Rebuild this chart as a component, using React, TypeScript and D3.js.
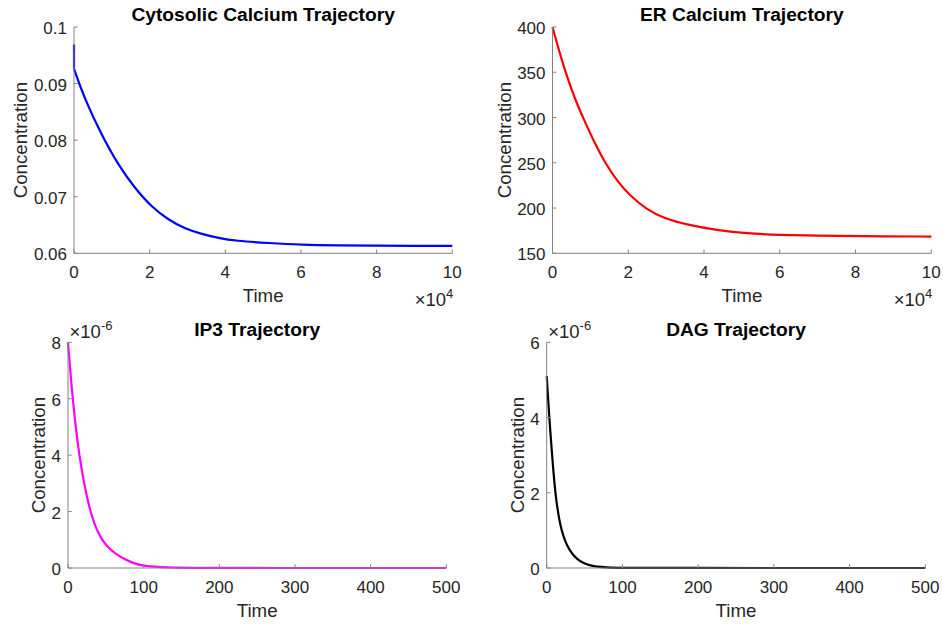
import React from "react";
import * as d3 from "d3";

// ---- data ----
// Cytosolic calcium: time in units of 1e4
const cytoTime = [0, 0.001, 0.28, 0.73, 1.17, 1.61, 2.05, 2.5, 2.94, 3.38, 3.82, 4.27, 5.15, 6, 7, 8, 9, 10];
const cytoValue = [0.0969, 0.0926, 0.0873, 0.0809, 0.0756, 0.0715, 0.0682, 0.0659, 0.0643, 0.0634, 0.0627, 0.0622, 0.0618, 0.0615, 0.0614, 0.06135, 0.0613, 0.0613];
// ER calcium: time in units of 1e4
const erTime = [0, 0.15, 0.335, 0.594, 0.858, 1.122, 1.386, 1.695, 2.046, 2.487, 2.925, 3.543, 4.42, 5.1, 6, 7, 8, 10];
const erValue = [400, 377, 351, 320, 295, 271, 250, 230.5, 213.5, 198.5, 189, 181.5, 175, 172, 170.3, 169.4, 168.9, 168.5];
// IP3: values in units of 1e-6
const ip3Time = [0, 3, 6.2, 14.1, 28.2, 42.7, 62.6, 84.6, 100, 130, 170, 250, 500];
const ip3Value = [8, 7.0, 6, 4, 2, 1, 0.47, 0.18, 0.06, 0.02, 0.005, 0, 0];
// DAG: values in units of 1e-6
const dagTime = [0, 3.4, 6.6, 11, 17.6, 26.4, 39.6, 57, 80, 100, 150, 500];
const dagValue = [5.1, 4, 3.14, 2, 1.1, 0.57, 0.21, 0.05, 0.015, 0.005, 0, 0];

const longTimeTicks = [0, 2, 4, 6, 8, 10];
const shortTimeTicks = [0, 100, 200, 300, 400, 500];
const cytoTicks = [0.06, 0.07, 0.08, 0.09, 0.1];
const erTicks = [150, 200, 250, 300, 350, 400];
const ip3Ticks = [0, 2, 4, 6, 8];
const dagTicks = [0, 2, 4, 6];

const titles = ["Cytosolic Calcium Trajectory", "ER Calcium Trajectory", "IP3 Trajectory", "DAG Trajectory"];

const FONT = "'Liberation Sans', Arial, Helvetica, sans-serif";
const TXT = "#262626";
const AX = "#838383";

type PanelProps = {
  left: number; right: number; top: number; bottom: number;
  xDomain: [number, number]; yDomain: [number, number];
  xTicks: number[]; yTicks: number[];
  time: number[]; values: number[];
  color: string; title: string;
  xExp?: string; yExp?: string;
  ylabelX: number;
  jumpAtStart?: boolean;
};

function Panel(p: PanelProps) {
  const x = d3.scaleLinear().domain(p.xDomain).range([p.left, p.right]);
  const y = d3.scaleLinear().domain(p.yDomain).range([p.bottom, p.top]);
  const pts: [number, number][] = p.time.map((t, i) => [x(t), y(p.values[i])]);
  const smooth = d3.line().curve(d3.curveBasis);
  const straight = d3.line();
  const paths: string[] = [];
  if (p.jumpAtStart) {
    paths.push(straight(pts.slice(0, 2)) || "");
    paths.push(smooth(pts.slice(1)) || "");
  } else {
    paths.push(smooth(pts) || "");
  }
  const tl = 3.8;
  const fmt = (v: number) => String(+v.toFixed(6));
  const cx = (p.left + p.right) / 2;
  const cy = (p.top + p.bottom) / 2;
  return (
    <g fontFamily={FONT}>
      {paths.map((d, i) => (
        <path key={i} d={d} fill="none" stroke={p.color} strokeWidth={2.2} strokeLinejoin="round" strokeLinecap="butt" />
      ))}
      <line x1={p.left} x2={p.right} y1={p.bottom} y2={p.bottom} stroke={AX} strokeWidth={1} />
      <line x1={p.left} x2={p.left} y1={p.top} y2={p.bottom} stroke={AX} strokeWidth={1} />
      {p.xTicks.map((t) => (
        <g key={"x" + t}>
          <line x1={x(t)} x2={x(t)} y1={p.bottom} y2={p.bottom - tl} stroke={AX} />
          <text x={x(t)} y={p.bottom + 25} textAnchor="middle" fontSize={17} fill={TXT}>{fmt(t)}</text>
        </g>
      ))}
      {p.yTicks.map((t) => (
        <g key={"y" + t}>
          <line x1={p.left} x2={p.left + tl} y1={y(t)} y2={y(t)} stroke={AX} />
          <text x={p.left - 7} y={y(t) + 7} textAnchor="end" fontSize={17} fill={TXT}>{fmt(t)}</text>
        </g>
      ))}
      <text x={cx} y={p.bottom + 48.5} textAnchor="middle" fontSize={18.7} fill={TXT}>Time</text>
      <text transform={`translate(${p.ylabelX},${cy}) rotate(-90)`} textAnchor="middle" fontSize={18.7} fill={TXT}>Concentration</text>
      <text x={cx} y={p.top - 6.3} textAnchor="middle" fontSize={19.2} fontWeight="bold" fill="#000">{p.title}</text>
      {p.xExp && (
        <text x={p.right + 1} y={p.bottom + 52.4} textAnchor="end" fontSize={18.5} fill={TXT}>
          ×10<tspan dy={-7.5} fontSize={13}>{p.xExp}</tspan>
        </text>
      )}
      {p.yExp && (
        <text x={p.left + 1.5} y={p.top - 4.6} textAnchor="start" fontSize={18.5} fill={TXT}>
          ×10<tspan dy={-7.5} fontSize={13}>{p.yExp}</tspan>
        </text>
      )}
    </g>
  );
}

export default function App() {
  return (
    <svg width={943} height={624} style={{ position: "absolute", left: 0, top: 0, background: "#fff" }}>
      <rect x={0} y={0} width={943} height={624} fill="#fff" />
      <Panel left={74} right={452.3} top={27} bottom={253.3} xDomain={[0, 10]} yDomain={[0.06, 0.1]}
        xTicks={longTimeTicks} yTicks={cytoTicks} time={cytoTime} values={cytoValue}
        color="#0000ff" title={titles[0]} xExp="4" ylabelX={26.7} jumpAtStart />
      <Panel left={552.5} right={931.3} top={27} bottom={253.3} xDomain={[0, 10]} yDomain={[150, 400]}
        xTicks={longTimeTicks} yTicks={erTicks} time={erTime} values={erValue}
        color="#ff0000" title={titles[1]} xExp="4" ylabelX={510.7} />
      <Panel left={68} right={446.3} top={342.3} bottom={568} xDomain={[0, 500]} yDomain={[0, 8]}
        xTicks={shortTimeTicks} yTicks={ip3Ticks} time={ip3Time} values={ip3Value}
        color="#ff00ff" title={titles[2]} yExp="-6" ylabelX={45} />
      <Panel left={546.7} right={925.3} top={342.3} bottom={568} xDomain={[0, 500]} yDomain={[0, 6]}
        xTicks={shortTimeTicks} yTicks={dagTicks} time={dagTime} values={dagValue}
        color="#000000" title={titles[3]} yExp="-6" ylabelX={524} />
    </svg>
  );
}
